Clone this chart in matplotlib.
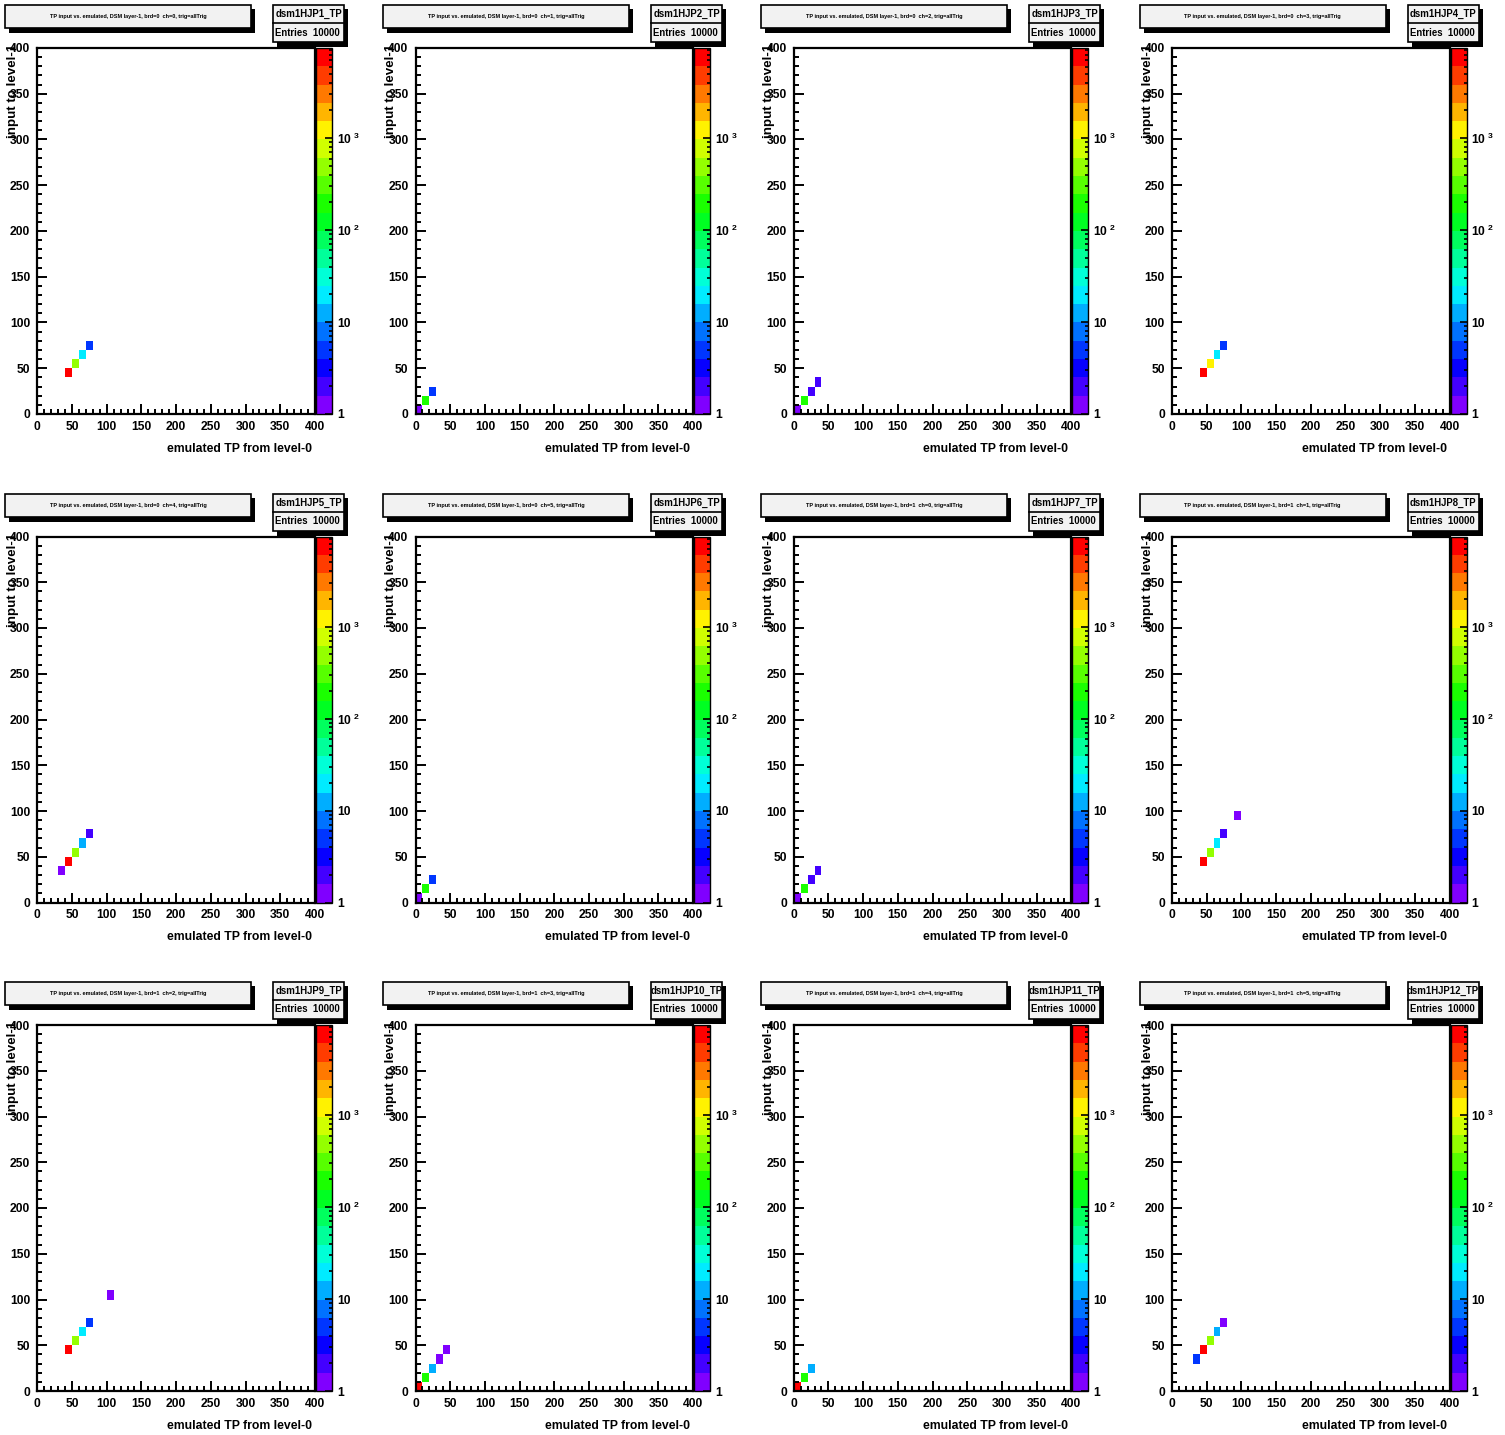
import numpy as np
import matplotlib
matplotlib.use("Agg")
import matplotlib.pyplot as plt
from matplotlib.colors import ListedColormap, LogNorm, hsv_to_rgb
from matplotlib.patches import Rectangle
from matplotlib.ticker import LogLocator, MultipleLocator, NullFormatter

plt.rcParams['font.family'] = ['Liberation Sans', 'DejaVu Sans']
plt.rcParams['font.weight'] = 'bold'
plt.rcParams['mathtext.fontset'] = 'custom'
plt.rcParams['mathtext.rm'] = 'Liberation Sans:bold'
plt.rcParams['mathtext.bf'] = 'Liberation Sans:bold'

# ---- data (bin lower edges, bin width 10) ----
hist_names = ['dsm1HJP%d_TP' % i for i in range(1, 13)]
entries = [10000] * 12
boards = [0, 0, 0, 0, 0, 0, 1, 1, 1, 1, 1, 1]
channels = [0, 1, 2, 3, 4, 5, 0, 1, 2, 3, 4, 5]

cell_x = [
    [40, 50, 60, 70],
    [0, 10, 20],
    [0, 10, 20, 30],
    [40, 50, 60, 70],
    [30, 40, 50, 60, 70],
    [0, 10, 20],
    [0, 10, 20, 30],
    [40, 50, 60, 70, 90],
    [40, 50, 60, 70, 100],
    [0, 10, 20, 30, 40],
    [0, 10, 20],
    [30, 40, 50, 60, 70],
]
cell_y = [
    [40, 50, 60, 70],
    [0, 10, 20],
    [0, 10, 20, 30],
    [40, 50, 60, 70],
    [30, 40, 50, 60, 70],
    [0, 10, 20],
    [0, 10, 20, 30],
    [40, 50, 60, 70, 90],
    [40, 50, 60, 70, 100],
    [0, 10, 20, 30, 40],
    [0, 10, 20],
    [30, 40, 50, 60, 70],
]
cell_n = [
    [9470, 500, 20, 5],
    [1, 190, 5],
    [1, 190, 2, 2],
    [8770, 1200, 20, 5],
    [1, 9480, 500, 12, 2],
    [1, 190, 5],
    [1, 190, 2, 2],
    [9470, 500, 20, 2, 1],
    [9470, 500, 20, 5, 1],
    [9600, 190, 12, 1, 1],
    [9600, 190, 12],
    [5, 9470, 500, 12, 1],
]

W, H = 1505, 1435
fig = plt.figure(figsize=(W / 100, H / 100), dpi=100)

def rect(x0, y0, x1, y1):
    return [x0 / W, 1 - y1 / H, (x1 - x0) / W, (y1 - y0) / H]

# ROOT-like "pretty" palette with 20 contour bands
hues = np.linspace(270, 0, 20) / 360.0
palette = ListedColormap(hsv_to_rgb(np.column_stack([hues, np.ones(20), np.ones(20)])))
norm = LogNorm(vmin=1, vmax=10 ** 3.98)

overlay = fig.add_axes([0, 0, 1, 1])
overlay.set_xlim(0, W)
overlay.set_ylim(H, 0)
overlay.axis('off')

edges = np.arange(0, 401, 10)

for k in range(12):
    r, c = divmod(k, 4)
    dx = c * 378.2
    dy = r * 488.5

    # title box with shadow
    overlay.add_patch(Rectangle((9 + dx, 9 + dy), 246, 24, fc='black', ec='none'))
    overlay.add_patch(Rectangle((5 + dx, 5 + dy), 246, 23, fc='#f2f2f2', ec='black', lw=1.2))
    overlay.text(128 + dx, 16.5 + dy,
                 'TP input vs. emulated, DSM layer-1, brd=%d  ch=%d, trig=allTrig' % (boards[k], channels[k]),
                 fontsize=4, ha='center', va='center')

    # stats box with shadow
    overlay.add_patch(Rectangle((277 + dx, 9 + dy), 71, 38, fc='black', ec='none'))
    overlay.add_patch(Rectangle((273 + dx, 5 + dy), 71, 37, fc='#f2f2f2', ec='black', lw=1.2))
    overlay.plot([273 + dx, 344 + dx], [23 + dy, 23 + dy], color='black', lw=1.2)
    overlay.text(308.5 + dx, 14 + dy, hist_names[k], fontsize=6.9, ha='center', va='center')
    overlay.text(275 + dx, 32.5 + dy, 'Entries  %d' % entries[k], fontsize=6.9, ha='left', va='center')

    # axis titles
    overlay.text(312 + dx, 449 + dy, 'emulated TP from level-0', fontsize=8.8, ha='right', va='center')
    overlay.text(13 + dx, 44 + dy, 'input to level-1', fontsize=9.6, rotation=90,
                 rotation_mode='anchor', ha='right', va='center')

    ax = fig.add_axes(rect(37.3 + dx, 48 + dy, 315 + dx, 414 + dy))
    counts = np.zeros((40, 40))
    for xv, yv, nv in zip(cell_x[k], cell_y[k], cell_n[k]):
        counts[yv // 10, xv // 10] = nv
    mesh = ax.pcolormesh(edges, edges, np.ma.masked_equal(counts, 0), cmap=palette, norm=norm)
    ax.set_xlim(0, 400)
    ax.set_ylim(0, 400)
    ax.xaxis.set_major_locator(MultipleLocator(50))
    ax.yaxis.set_major_locator(MultipleLocator(50))
    ax.xaxis.set_minor_locator(MultipleLocator(10))
    ax.yaxis.set_minor_locator(MultipleLocator(10))
    ax.tick_params(which='both', direction='in', top=False, right=False, width=1.4,
                   labelsize=8.7, pad=5)
    ax.tick_params(which='major', length=7.2)
    ax.tick_params(which='minor', length=3.6)
    for lab in ax.get_xticklabels() + ax.get_yticklabels():
        lab.set_fontweight('bold')
    for sp in ax.spines.values():
        sp.set_linewidth(1.6)

    cax = fig.add_axes(rect(316 + dx, 48 + dy, 332 + dx, 414 + dy))
    cb = fig.colorbar(mesh, cax=cax)
    cb.outline.set_linewidth(1.0)
    cax.yaxis.set_major_locator(LogLocator(base=10))
    cax.yaxis.set_minor_locator(LogLocator(base=10, subs=np.arange(2, 10)))
    cax.yaxis.set_minor_formatter(NullFormatter())
    cax.set_yticks([1, 10, 100, 1000])
    cax.set_yticklabels(['1', '10', r'$10^{\ 2}$', r'$10^{\ 3}$'])
    cax.tick_params(which='both', direction='in', width=1.2, labelsize=8.7, pad=3.5)
    cax.tick_params(which='major', length=5)
    cax.tick_params(which='minor', length=2.5)

fig.savefig('out.png', dpi=100)
